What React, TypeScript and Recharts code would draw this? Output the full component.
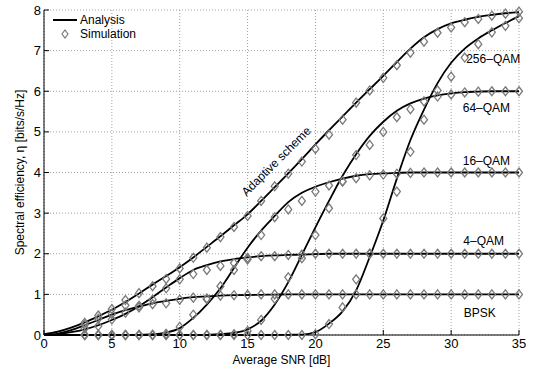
import React from 'react';
import { LineChart, Line, XAxis, YAxis, CartesianGrid, ReferenceDot } from 'recharts';

// analysis curves, read at every dB from 0 to 35
const snr = Array.from({ length: 36 }, (_, i) => i);
const bpsk = [0, 0.03, 0.12, 0.24, 0.37, 0.5, 0.61, 0.7, 0.78, 0.84, 0.89, 0.93, 0.95, 0.97, 0.98, 0.985, 0.99, 0.995, 1, 1, 1, 1, 1, 1, 1, 1, 1, 1, 1, 1, 1, 1, 1, 1, 1, 1];
const qam4 = [0, 0.02, 0.07, 0.14, 0.24, 0.37, 0.52, 0.71, 0.93, 1.17, 1.4, 1.6, 1.72, 1.81, 1.87, 1.91, 1.94, 1.96, 1.97, 1.98, 1.99, 2, 2, 2, 2, 2, 2, 2, 2, 2, 2, 2, 2, 2, 2, 2];
const qam16 = [0, 0, 0, 0, 0, 0, 0, 0.005, 0.02, 0.06, 0.17, 0.42, 0.75, 1.15, 1.65, 2.15, 2.57, 2.93, 3.27, 3.5, 3.65, 3.76, 3.85, 3.92, 3.96, 3.98, 3.99, 4, 4, 4, 4, 4, 4, 4, 4, 4];
const qam64 = [0, 0, 0, 0, 0, 0, 0, 0, 0, 0, 0, 0, 0.005, 0.02, 0.05, 0.14, 0.35, 0.75, 1.3, 1.97, 2.65, 3.3, 3.92, 4.45, 4.9, 5.25, 5.52, 5.7, 5.82, 5.9, 5.95, 5.98, 5.99, 6, 6, 6];
const qam256 = [0, 0, 0, 0, 0, 0, 0, 0, 0, 0, 0, 0, 0, 0, 0, 0, 0, 0, 0.005, 0.01, 0.07, 0.28, 0.58, 1.1, 1.92, 2.82, 3.85, 4.8, 5.55, 6.2, 6.7, 7.05, 7.3, 7.5, 7.68, 7.85];
const adaptive = [0.02, 0.08, 0.18, 0.31, 0.46, 0.62, 0.81, 1.02, 1.24, 1.45, 1.67, 1.91, 2.17, 2.43, 2.7, 2.97, 3.3, 3.64, 3.98, 4.33, 4.69, 5.04, 5.38, 5.72, 6.05, 6.38, 6.72, 7.05, 7.33, 7.53, 7.67, 7.76, 7.83, 7.88, 7.92, 7.95];

// simulation points, 3 dB to 35 dB
const simStart = 3;
const simBpsk = [0.25, 0.4, 0.52, 0.73, 0.72, 0.76, 0.78, 0.87, 0.92, 0.9, 0.97, 0.98, 0.99, 1, 1, 1, 1, 1, 1, 1, 1, 1, 1, 1, 1, 1, 1, 1, 1, 1, 1, 1, 1];
const simQam4 = [0.16, 0.22, 0.38, 0.55, 0.68, 0.87, 1.15, 1.37, 1.5, 1.6, 1.7, 1.77, 1.86, 1.94, 1.94, 1.97, 1.98, 2, 2, 2, 2, 2, 2, 2, 2, 2, 2, 2, 2, 2, 2, 2, 2];
const simQam16 = [0, 0, 0, 0, 0, 0, 0.03, 0.2, 0.5, 0.88, 1.2, 1.6, 1.9, 2.46, 2.9, 3.09, 3.3, 3.53, 3.68, 3.78, 3.86, 3.93, 3.95, 3.97, 3.99, 4, 4, 4, 4, 4, 4, 4, 4];
const simQam64 = [0, 0, 0, 0, 0, 0, 0, 0, 0, 0, 0, 0.02, 0.1, 0.37, 0.89, 1.42, 1.89, 2.46, 3.12, 3.78, 4.43, 4.68, 5.0, 5.36, 5.56, 5.75, 5.87, 5.92, 5.97, 5.99, 6, 6, 6];
const simQam256 = [0, 0, 0, 0, 0, 0, 0, 0, 0, 0, 0, 0, 0, 0, 0, 0, 0, 0.02, 0.27, 0.68, 1.37, 2.0, 2.87, 3.53, 4.51, 5.3, 6.02, 6.36, 6.83, 7.16, 7.45, 7.61, 7.8];
const simAdaptive = [0.3, 0.48, 0.64, 0.86, 1.03, 1.2, 1.38, 1.64, 1.9, 2.15, 2.41, 2.66, 2.93, 3.3, 3.66, 3.97, 4.27, 4.58, 4.93, 5.3, 5.72, 6.02, 6.33, 6.64, 6.95, 7.22, 7.44, 7.57, 7.7, 7.78, 7.86, 7.91, 7.96];

const xTicks = [0, 5, 10, 15, 20, 25, 30, 35];
const yTicks = [0, 1, 2, 3, 4, 5, 6, 7, 8];

const curveLabels = [
  { text: '256\u2013QAM', x: 33.1, y: 6.8 },
  { text: '64\u2013QAM', x: 32.6, y: 5.6 },
  { text: '16\u2013QAM', x: 32.6, y: 4.29 },
  { text: '4\u2013QAM', x: 32.4, y: 2.33 },
  { text: 'BPSK', x: 32.1, y: 0.55 },
];

const sim = (arr: number[], i: number) => (i >= simStart ? arr[i - simStart] : null);

const rows = snr.map((s, i) => ({
  snr: s,
  bpsk: bpsk[i],
  qam4: qam4[i],
  qam16: qam16[i],
  qam64: qam64[i],
  qam256: qam256[i],
  adaptive: adaptive[i],
  simBpsk: sim(simBpsk, i),
  simQam4: sim(simQam4, i),
  simQam16: sim(simQam16, i),
  simQam64: sim(simQam64, i),
  simQam256: sim(simQam256, i),
  simAdaptive: sim(simAdaptive, i),
}));

const MARKER = '#7a7a7a';

const Diamond = (props: any) => {
  const { cx, cy, index } = props;
  if (cx == null || cy == null || isNaN(cy)) return <g key={index} />;
  return (
    <path
      key={index}
      d={`M${cx},${cy - 4.5} L${cx + 3.5},${cy} L${cx},${cy + 4.5} L${cx - 3.5},${cy} Z`}
      fill="none"
      stroke={MARKER}
      strokeWidth={1.3}
    />
  );
};

const analysisKeys = ['bpsk', 'qam4', 'qam16', 'qam64', 'qam256', 'adaptive'];
const simKeys = ['simBpsk', 'simQam4', 'simQam16', 'simQam64', 'simQam256', 'simAdaptive'];

export default function App() {
  return (
    <div style={{ position: 'absolute', left: 0, top: 0, width: 540, height: 372, background: '#fff', fontFamily: '"Liberation Sans", Arial, sans-serif' }}>
      <LineChart width={540} height={372} data={rows} margin={{ top: 10, right: 21, bottom: 0, left: 0 }}>
        <CartesianGrid stroke="#a0a0a0" strokeDasharray="1 2" />
        <XAxis
          dataKey="snr"
          type="number"
          domain={[0, 35]}
          ticks={xTicks}
          interval={0}
          height={37}
          stroke="#000"
          tickSize={-5}
          tickMargin={9}
          tick={{ fontSize: 13, fill: '#000' }}
          label={{ value: 'Average SNR [dB]', position: 'insideBottom', offset: 8, fontSize: 12, fill: '#000' }}
        />
        <XAxis xAxisId="top" orientation="top" dataKey="snr" type="number" domain={[0, 35]} ticks={xTicks} height={0} stroke="#000" tickSize={-5} tick={false} />
        <YAxis
          type="number"
          domain={[0, 8]}
          ticks={yTicks}
          interval={0}
          width={44}
          stroke="#000"
          tickSize={-5}
          tickMargin={8}
          tick={{ fontSize: 13, fill: '#000' }}
          label={{ value: 'Spectral efficiency, \u03b7 [bits/s/Hz]', angle: -90, position: 'insideLeft', offset: 20, fontSize: 12, fill: '#000', style: { textAnchor: 'middle' } }}
        />
        <YAxis yAxisId="right" orientation="right" type="number" domain={[0, 8]} ticks={yTicks} width={0} stroke="#000" tickSize={-5} tick={false} />

        {analysisKeys.map((k) => (
          <Line key={k} dataKey={k} type="monotone" stroke="#000" strokeWidth={1.8} dot={false} activeDot={false} isAnimationActive={false} />
        ))}
        {simKeys.map((k) => (
          <Line key={k} dataKey={k} stroke="none" dot={Diamond} activeDot={false} isAnimationActive={false} />
        ))}

        {curveLabels.map((l) => (
          <ReferenceDot key={l.text} x={l.x} y={l.y} r={0} fill="none" stroke="none" label={{ value: l.text, position: 'center', fontSize: 12, fill: '#000' }} />
        ))}
        <ReferenceDot
          x={17.1}
          y={4.28}
          r={0}
          fill="none"
          stroke="none"
          label={{ value: 'Adaptive scheme', position: 'center', angle: -45, fontSize: 12, fill: '#000', style: { fill: '#000' } }}
        />
      </LineChart>

      <div style={{ position: 'absolute', left: 50, top: 13, fontSize: 12, lineHeight: '14px', color: '#000' }}>
        <div style={{ display: 'flex', alignItems: 'center' }}>
          <svg width={30} height={14}>
            <line x1={3} y1={7} x2={27} y2={7} stroke="#000" strokeWidth={2} />
          </svg>
          <span>Analysis</span>
        </div>
        <div style={{ display: 'flex', alignItems: 'center' }}>
          <svg width={30} height={14}>
            <path d="M15,3 L18,7 L15,11 L12,7 Z" fill="none" stroke={MARKER} strokeWidth={1.2} />
          </svg>
          <span>Simulation</span>
        </div>
      </div>
    </div>
  );
}
